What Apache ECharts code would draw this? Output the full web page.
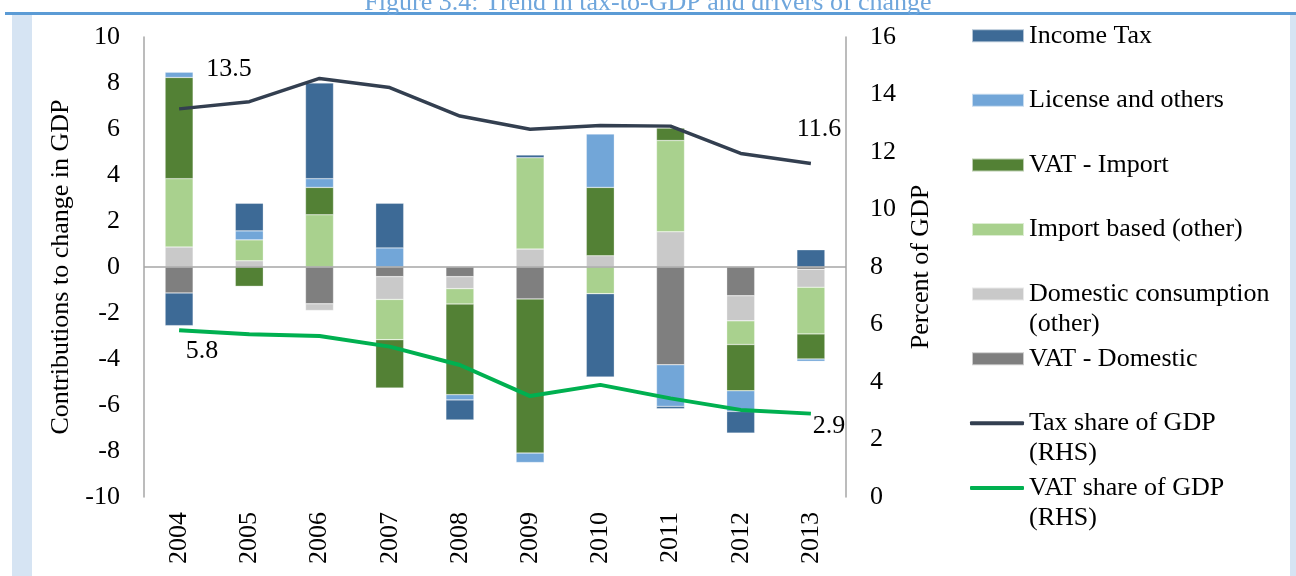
<!DOCTYPE html>
<html>
<head>
<meta charset="utf-8">
<script src="https://cdn.jsdelivr.net/npm/echarts@6/dist/echarts.min.js"></script>
<style>
	html, body { margin: 0; padding: 0; background: #fff; }
	#chart { width: 1296px; height: 576px; }
</style>
</head>
<body>
<div id="chart"></div>
<script>
// Data
const years = ['2004', '2005', '2006', '2007', '2008', '2009', '2010', '2011', '2012', '2013']
const vatDomestic = [-1.13, 0, -1.6, -0.42, -0.42, -1.39, 0, -4.25, -1.25, -0.1]
const domesticConsumption = [0.87, 0.27, -0.29, -0.99, -0.52, 0.78, 0.49, 1.53, -1.09, -0.78]
const importBased = [2.97, 0.91, 2.27, -1.75, -0.67, 3.97, -1.16, 3.97, -1.03, -2.03]
const vatImport = [4.4, -0.84, 1.19, -2.1, -3.94, -6.7, 2.97, 0.54, -2.01, -1.09]
const licenseOthers = [0.23, 0.39, 0.38, 0.83, -0.23, -0.41, 2.32, -1.81, -0.9, -0.1]
const incomeTax = [-1.42, 1.2, 4.16, 1.94, -0.87, 0.12, -3.62, -0.1, -0.94, 0.75]
const taxShare = [13.5, 13.75, 14.56, 14.24, 13.25, 12.79, 12.92, 12.9, 11.95, 11.6]
const vatShare = [5.8, 5.66, 5.6, 5.23, 4.59, 3.51, 3.9, 3.43, 3.03, 2.9]

const leftTicks = { min: -10, max: 10, interval: 2 }
const rightTicks = { min: 0, max: 16, interval: 2 }

const FONT = 'Liberation Serif'
const FS = 26

const chart = echarts.init(document.getElementById('chart'))

const barSeries = (name, data, color) => ({
	name: name,
	type: 'bar',
	stack: 'contrib',
	barWidth: 28,
	data: data,
	itemStyle: { color: color, borderColor: 'rgba(255,255,255,0.6)', borderWidth: 0.5 }
})

// label only first and last point, with offsets like the original
const withEndLabels = (values, firstOffset, lastOffset) => values.map((v, i) => {
	if (i === 0 || i === values.length - 1) {
		return {
			value: v,
			label: {
				show: true,
				position: 'inside',
				offset: i === 0 ? firstOffset : lastOffset,
				formatter: (p) => p.value.toFixed(1),
				color: '#000',
				fontFamily: FONT,
				fontSize: FS
			}
		}
	}
	return v
})

const legendNames = [
	'Income Tax',
	'License and others',
	'VAT - Import',
	'Import based (other)',
	'Domestic consumption\n(other)',
	'VAT - Domestic',
	'Tax share of GDP\n(RHS)',
	'VAT share of GDP\n(RHS)'
]
const lineNames = ['Tax share of GDP\n(RHS)', 'VAT share of GDP\n(RHS)']

// one legend per entry so the icon sits on the first text line
const legends = legendNames.map((name, i) => {
	const c = 35.7 + 64.6 * i
	const twoLine = name.indexOf('\n') >= 0
	const isLine = lineNames.indexOf(name) >= 0
	return {
		data: [name],
		orient: 'vertical',
		left: isLine ? 970 : 971,
		top: twoLine ? c - 45 : c - 15,
		padding: 0,
		itemWidth: isLine ? 54 : 52,
		itemHeight: isLine ? 4 : 13,
		icon: isLine ? 'roundRect' : 'rect',
		itemGap: 0,
		selectedMode: false,
		formatter: (n) => twoLine ? '\u00a0\n' + n : n,
		textStyle: {
			fontFamily: FONT,
			fontSize: FS,
			color: '#000',
			lineHeight: 30
		}
	}
})

const option = {
	animation: false,
	backgroundColor: '#fff',
	title: {
		text: 'Figure 3.4: Trend in tax-to-GDP and drivers of change',
		left: 'center',
		top: -15,
		textStyle: { fontFamily: FONT, fontSize: FS, fontWeight: 'normal', color: '#6fa6dc' }
	},
	graphic: [
		{ type: 'rect', shape: { x: 12, y: 14, width: 20, height: 562 }, style: { fill: '#d6e4f3' }, silent: true },
		{ type: 'rect', shape: { x: 1290, y: 14, width: 6, height: 562 }, style: { fill: '#d6e4f3' }, silent: true },
		{ type: 'rect', shape: { x: 5, y: 12, width: 1291, height: 3 }, style: { fill: '#5b9bd5' }, silent: true }
	],
	legend: legends,
	grid: { left: 144, right: 450, top: 37, bottom: 79 },
	xAxis: {
		type: 'category',
		data: years,
		axisLine: { show: false },
		axisTick: { show: false },
		axisLabel: { rotate: 90, margin: 15, color: '#000', fontFamily: FONT, fontSize: FS }
	},
	yAxis: [
		{
			type: 'value',
			min: leftTicks.min,
			max: leftTicks.max,
			interval: leftTicks.interval,
			name: 'Contributions to change in GDP',
			nameLocation: 'middle',
			nameGap: 70,
			nameTextStyle: { color: '#000', fontFamily: FONT, fontSize: FS },
			axisLine: { show: true, lineStyle: { color: '#a6a6a6', width: 1.5 } },
			axisTick: { show: false },
			splitLine: { show: false },
			axisLabel: { margin: 24, color: '#000', fontFamily: FONT, fontSize: FS }
		},
		{
			type: 'value',
			min: rightTicks.min,
			max: rightTicks.max,
			interval: rightTicks.interval,
			name: 'Percent of GDP',
			nameLocation: 'middle',
			nameGap: 62,
			nameTextStyle: { color: '#000', fontFamily: FONT, fontSize: FS },
			axisLine: { show: true, lineStyle: { color: '#a6a6a6', width: 1.5 } },
			axisTick: { show: false },
			splitLine: { show: false },
			axisLabel: { margin: 24, color: '#000', fontFamily: FONT, fontSize: FS }
		}
	],
	series: [
		Object.assign(barSeries('VAT - Domestic', vatDomestic, '#7f7f7f'), {
			markLine: {
				silent: true,
				symbol: 'none',
				label: { show: false },
				lineStyle: { color: '#a6a6a6', width: 1.5, type: 'solid' },
				data: [{ yAxis: 0 }]
			}
		}),
		barSeries('Domestic consumption\n(other)', domesticConsumption, '#c9c9c9'),
		barSeries('Import based (other)', importBased, '#a9d18e'),
		barSeries('VAT - Import', vatImport, '#538135'),
		barSeries('License and others', licenseOthers, '#72a6d8'),
		barSeries('Income Tax', incomeTax, '#3d6a96'),
		{
			name: 'Tax share of GDP\n(RHS)',
			type: 'line',
			yAxisIndex: 1,
			data: withEndLabels(taxShare, [50, -40], [8, -34]),
			symbol: 'circle',
			symbolSize: 0,
			itemStyle: { color: '#333f50' },
			lineStyle: { color: '#333f50', width: 3.5 },
			z: 5
		},
		{
			name: 'VAT share of GDP\n(RHS)',
			type: 'line',
			yAxisIndex: 1,
			data: withEndLabels(vatShare, [23, 21], [18, 13]),
			symbol: 'circle',
			symbolSize: 0,
			itemStyle: { color: '#00b050' },
			lineStyle: { color: '#00b050', width: 4 },
			z: 5
		}
	]
}

chart.setOption(option)
</script>
</body>
</html>
